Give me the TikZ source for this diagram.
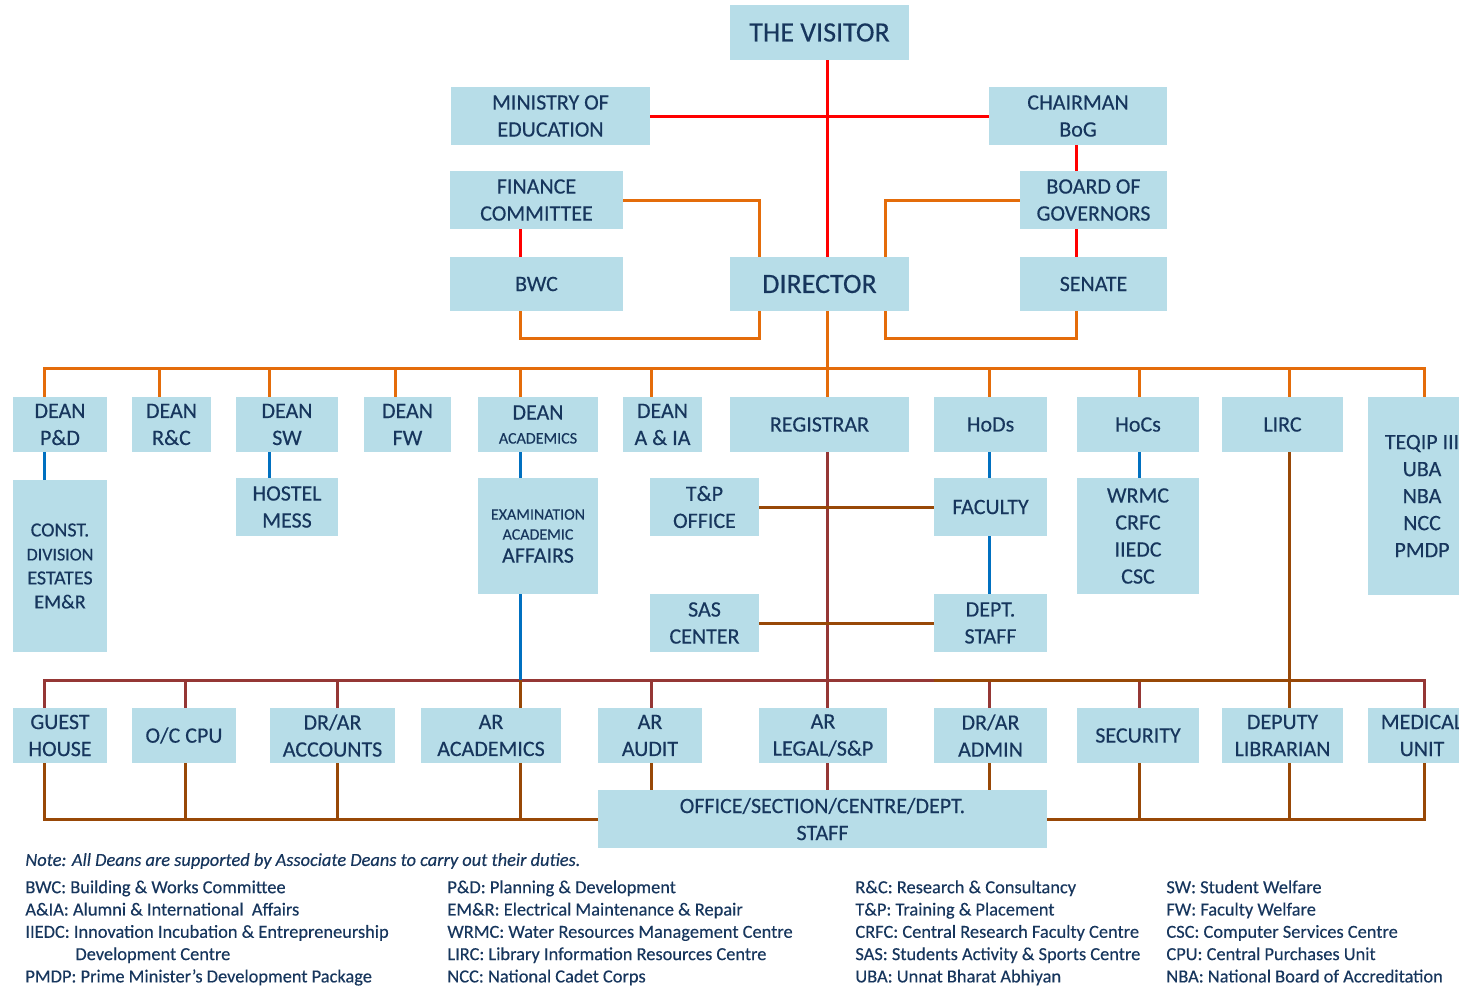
\documentclass[tikz,border=0pt]{standalone}
\usepackage{fontspec}
\setmainfont{Carlito}[FakeBold=0.3]
\usepackage{tikz}
\definecolor{boxblue}{HTML}{B7DDE8}
\definecolor{inktext}{HTML}{17365D}
\definecolor{linered}{HTML}{FF0000}
\definecolor{lineorange}{HTML}{E46C0A}
\definecolor{lineblue}{HTML}{0070C0}
\definecolor{linemaroon}{HTML}{953735}
\definecolor{linebrown}{HTML}{984807}
\tikzset{
	box/.style={
		fill=boxblue,
		text=inktext,
		align=center,
		inner sep=0pt,
		font=\fontsize{11}{13.5}\selectfont
	},
	bigbox/.style={
		box,
		font=\fontsize{14}{17}\selectfont
	},
	dims/.style 2 args={
		minimum width=#1*0.5pt,
		minimum height=#2*0.5pt
	},
	link/.style={
		line width=1.5pt,
		line join=miter
	},
	redline/.style={link,linered},
	orangeline/.style={link,lineorange},
	blueline/.style={link,lineblue},
	maroonline/.style={link,linemaroon},
	brownline/.style={link,linebrown},
	legend/.style={
		text=inktext,
		align=left,
		inner sep=0pt,
		font=\fontsize{9.2}{11.15}\selectfont
	}
}

\begin{document}
\begin{tikzpicture}[x=0.5pt,y=-0.5pt]
	\fill[white] (0,0) rectangle (1459,985);
	\useasboundingbox (0,0) rectangle (1459,985);

	% columns and runs the connectors follow
	\coordinate (colpd)    at (44,0);
	\coordinate (colrc)    at (159,0);
	\coordinate (colcpu)   at (185,0);
	\coordinate (colsw)    at (269,0);
	\coordinate (colacc)   at (337,0);
	\coordinate (colfw)    at (395,0);
	\coordinate (colac)    at (520,0);
	\coordinate (colia)    at (651,0);
	\coordinate (dirleft)  at (759,0);
	\coordinate (spine)    at (827,0);
	\coordinate (dirright) at (885,0);
	\coordinate (colhod)   at (989,0);
	\coordinate (colbog)   at (1076,0);
	\coordinate (colhoc)   at (1139,0);
	\coordinate (collirc)  at (1289,0);
	\coordinate (colteq)   at (1424,0);
	\coordinate (lowrun)   at (0,338);
	\coordinate (deanbus)  at (0,368);
	\coordinate (staffbus) at (0,680);
	\coordinate (basebus)  at (0,819);

	% governing bodies
	\node[bigbox,dims={179}{55}] (visitor)  at (819.5,32.5) {THE VISITOR};
	\node[box,dims={199}{58}]    (moe)      at (550.5,116)  {MINISTRY OF\\EDUCATION};
	\node[box,dims={178}{58}]    (chair)    at (1078,116)   {CHAIRMAN\\BoG};
	\node[box,dims={173}{58}]    (fincom)   at (536.5,200)  {FINANCE\\COMMITTEE};
	\node[box,dims={147}{58}]    (bog)      at (1093.5,200) {BOARD OF\\GOVERNORS};
	\node[box,dims={173}{54}]    (bwc)      at (536.5,284)  {BWC};
	\node[bigbox,dims={179}{54}] (director) at (819.5,284)  {DIRECTOR};
	\node[box,dims={147}{54}]    (senate)   at (1093.5,284) {SENATE};

	% deans and heads
	\node[box,dims={94}{55}]   (deanpd)    at (60,424.5)    {DEAN\\P\&D};
	\node[box,dims={79}{55}]   (deanrc)    at (171.5,424.5) {DEAN\\R\&C};
	\node[box,dims={102}{55}]  (deansw)    at (287,424.5)   {DEAN\\SW};
	\node[box,dims={87}{55}]   (deanfw)    at (407.5,424.5) {DEAN\\FW};
	\node[box,dims={120}{55}]  (deanac)    at (538,424.5)   {DEAN\\[-1.5pt]{\fontsize{8}{10}\selectfont ACADEMICS}};
	\node[box,dims={79}{55}]   (deania)    at (662.5,424.5) {DEAN\\A \& IA};
	\node[box,dims={179}{55}]  (registrar) at (819.5,424.5) {REGISTRAR};
	\node[box,dims={113}{55}]  (hods)      at (990.5,424.5) {HoDs};
	\node[box,dims={122}{55}]  (hocs)      at (1138,424.5)  {HoCs};
	\node[box,dims={121}{55}]  (lirc)      at (1282.5,424.5) {LIRC};
	\node[box,dims={108}{198}] (teqip)     at (1422,496)    {TEQIP III\\UBA\\NBA\\NCC\\PMDP};

	% units under them
	\node[box,dims={94}{172},font=\fontsize{10}{12}\selectfont] (const) at (60,566)
		{CONST.\\{\fontsize{9}{12}\selectfont DIVISION}\\ESTATES\\EM\&R};
	\node[box,dims={102}{58}]  (hostel)    at (287,507)    {HOSTEL\\MESS};
	\node[box,dims={120}{116}] (exam)      at (538,536)
		{{\fontsize{8}{10}\selectfont EXAMINATION}\\[-3.5pt]{\fontsize{8}{10}\selectfont ACADEMIC}\\[-2pt]AFFAIRS};
	\node[box,dims={109}{58}]  (tnp)       at (704.5,507)  {T\&P\\OFFICE};
	\node[box,dims={113}{58}]  (faculty)   at (990.5,507)  {FACULTY};
	\node[box,dims={122}{116}] (wrmc)      at (1138,536)   {WRMC\\CRFC\\IIEDC\\CSC};
	\node[box,dims={109}{58}]  (sas)       at (704.5,623)  {SAS\\CENTER};
	\node[box,dims={113}{58}]  (deptstaff) at (990.5,623)  {DEPT.\\STAFF};

	% registrar side
	\node[box,dims={94}{55}]  (guest)     at (60,735.5)    {GUEST\\HOUSE};
	\node[box,dims={104}{55}] (ocpu)      at (184,735.5)   {O/C CPU};
	\node[box,dims={125}{55}] (drarac)    at (332.5,735.5) {DR/AR\\ACCOUNTS};
	\node[box,dims={140}{55}] (arac)      at (491,735.5)   {AR\\ACADEMICS};
	\node[box,dims={104}{55}] (araudit)   at (650,735.5)   {AR\\AUDIT};
	\node[box,dims={128}{55}] (arlegal)   at (823,735.5)   {AR\\LEGAL/S\&P};
	\node[box,dims={113}{55}] (draradmin) at (990.5,735.5) {DR/AR\\ADMIN};
	\node[box,dims={122}{55}] (security)  at (1138,735.5)  {SECURITY};
	\node[box,dims={121}{55}] (deplib)    at (1282.5,735.5) {DEPUTY\\LIBRARIAN};
	\node[box,dims={108}{55}] (medical)   at (1422,735.5)  {MEDICAL\\UNIT};
	\node[box,dims={449}{58}] (office)    at (822.5,819)   {OFFICE/SECTION/CENTRE/DEPT.\\STAFF};

	% red
	\draw[redline]
		(visitor.south -| spine) -- (director.north -| spine)
		(moe.east) -- (chair.west)
		(chair.south -| colbog) -- (bog.north -| colbog)
		(bog.south -| colbog) -- (senate.north -| colbog)
		(fincom.south -| colac) -- (bwc.north -| colac);

	% orange
	\draw[orangeline]
		(fincom.east) -- (dirleft |- fincom.east) -- (director.north -| dirleft)
		(bwc.south -| colac) -- (colac |- lowrun) -- (dirleft |- lowrun) -- (director.south -| dirleft)
		(bog.west) -- (dirright |- bog.west) -- (director.north -| dirright)
		(director.south -| dirright) -- (dirright |- lowrun) -- (colbog |- lowrun) -- (senate.south -| colbog)
		(director.south -| spine) -- (registrar.north -| spine)
		(deanpd.north -| colpd) -- (colpd |- deanbus) -- (colteq |- deanbus) -- (teqip.north -| colteq)
		(colrc |- deanbus) -- (deanrc.north -| colrc)
		(colsw |- deanbus) -- (deansw.north -| colsw)
		(colfw |- deanbus) -- (deanfw.north -| colfw)
		(colac |- deanbus) -- (deanac.north -| colac)
		(colia |- deanbus) -- (deania.north -| colia)
		(colhod |- deanbus) -- (hods.north -| colhod)
		(colhoc |- deanbus) -- (hocs.north -| colhoc)
		(collirc |- deanbus) -- (lirc.north -| collirc);

	% maroon
	\draw[maroonline]
		(guest.north -| colpd) -- (colpd |- staffbus) -- (colteq |- staffbus) -- (medical.north -| colteq)
		(registrar.south -| spine) -- (arlegal.north -| spine)
		(arlegal.south -| spine) -- (office.north -| spine)
		(colcpu |- staffbus) -- (ocpu.north -| colcpu)
		(colacc |- staffbus) -- (drarac.north -| colacc)
		(colia |- staffbus) -- (araudit.north -| colia)
		(colhod |- staffbus) -- (draradmin.north -| colhod)
		(colhoc |- staffbus) -- (security.north -| colhoc);

	% blue
	\draw[blueline]
		(deanpd.south -| colpd) -- (const.north -| colpd)
		(deansw.south -| colsw) -- (hostel.north -| colsw)
		(deanac.south -| colac) -- (exam.north -| colac)
		(exam.south -| colac) -- (colac |- staffbus)
		(hods.south -| colhod) -- (faculty.north -| colhod)
		(faculty.south -| colhod) -- (deptstaff.north -| colhod)
		(hocs.south -| colhoc) -- (wrmc.north -| colhoc);

	% brown
	\draw[brownline]
		(tnp.east) -- (faculty.west)
		(sas.east) -- (deptstaff.west)
		(lirc.south -| collirc) -- (deplib.north -| collirc)
		(draradmin.west |- staffbus) -- ([xshift=10.5pt]collirc |- staffbus)
		(colac |- staffbus) -- (arac.north -| colac)
		(guest.south -| colpd) -- (colpd |- basebus) -- (office.west)
		(office.east) -- (colteq |- basebus) -- (medical.south -| colteq)
		(ocpu.south -| colcpu) -- (colcpu |- basebus)
		(drarac.south -| colacc) -- (colacc |- basebus)
		(arac.south -| colac) -- (colac |- basebus)
		(security.south -| colhoc) -- (colhoc |- basebus)
		(deplib.south -| collirc) -- (collirc |- basebus)
		(araudit.south -| colia) -- (office.north -| colia)
		(draradmin.south -| colhod) -- (office.north -| colhod);

	% abbreviations
	\node[legend,anchor=west] (note) at (25,861)
		{\itshape Note: All Deans are supported by Associate Deans to carry out their duties.};
	\node[legend,anchor=north west] (keya) at (25,880)
		{BWC: Building \& Works Committee\\
		 A\&IA: Alumni \& International\ \ Affairs\\
		 IIEDC: Innovation Incubation \& Entrepreneurship\\
		 \hspace*{25pt}Development Centre\\
		 PMDP: Prime Minister’s Development Package};
	\node[legend,anchor=north west] (keyb) at (447,880)
		{P\&D: Planning \& Development\\
		 EM\&R: Electrical Maintenance \& Repair\\
		 WRMC: Water Resources Management Centre\\
		 LIRC: Library Information Resources Centre\\
		 NCC: National Cadet Corps};
	\node[legend,anchor=north west] (keyc) at (855,880)
		{R\&C: Research \& Consultancy\\
		 T\&P: Training \& Placement\\
		 CRFC: Central Research Faculty Centre\\
		 SAS: Students Activity \& Sports Centre\\
		 UBA: Unnat Bharat Abhiyan};
	\node[legend,anchor=north west] (keyd) at (1166,880)
		{SW: Student Welfare\\
		 FW: Faculty Welfare\\
		 CSC: Computer Services Centre\\
		 CPU: Central Purchases Unit\\
		 NBA: National Board of Accreditation};
\end{tikzpicture}
\end{document}
